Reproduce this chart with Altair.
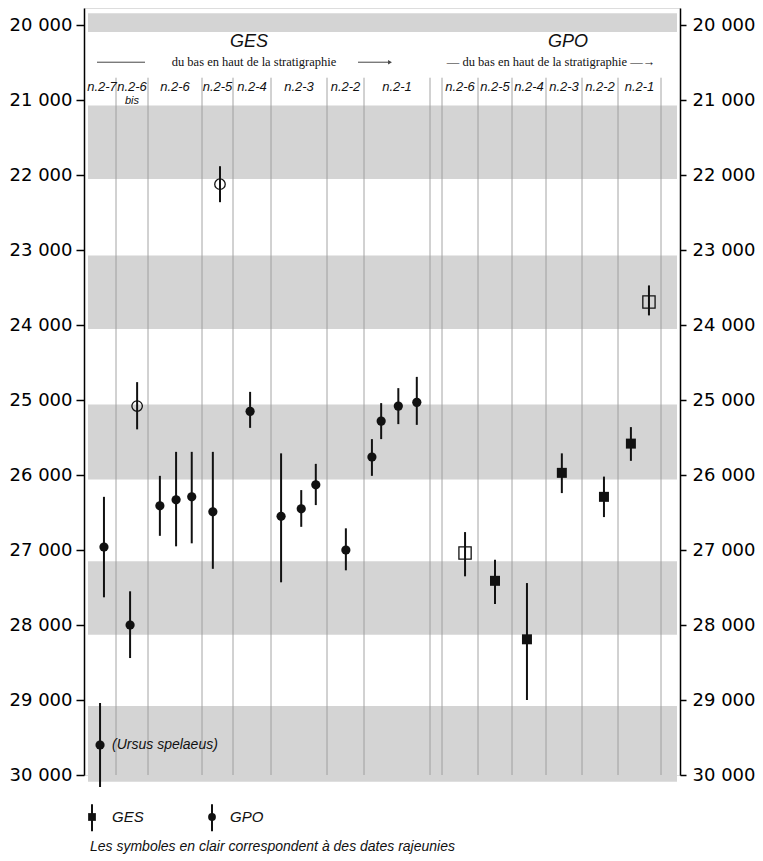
import altair as alt
import pandas as pd

# ---------------- data ----------------
# columns (levels) of the two sequences
col_site = ["GES"] * 8 + ["GPO"] * 6
col_label = ["n.2-7", "n.2-6", "n.2-6", "n.2-5", "n.2-4", "n.2-3", "n.2-2", "n.2-1",
             "n.2-6", "n.2-5", "n.2-4", "n.2-3", "n.2-2", "n.2-1"]
col_note = ["", "bis", "", "", "", "", "", "", "", "", "", "", "", ""]
# column edges (horizontal layout units)
col_left = [4, 32, 64, 118, 149, 187, 243, 280, 358, 394, 428, 462, 498, 534]
col_right = [32, 64, 118, 149, 187, 243, 280, 346, 394, 428, 462, 498, 534, 577]

# dates: column index, position inside column, date BP, range low/high, open symbol
pt_col = [0, 0, 1, 1, 2, 2, 2, 3, 3, 4, 5, 5, 5, 6, 7, 7, 7, 7,
          8, 9, 10, 11, 12, 13, 13]
pt_frac = [0.57, 0.43, 0.66, 0.44, 0.22, 0.52, 0.81, 0.35, 0.58, 0.45, 0.18, 0.54, 0.80,
           0.51, 0.12, 0.26, 0.52, 0.80,
           0.64, 0.50, 0.44, 0.44, 0.61, 0.30, 0.72]
pt_date = [26960, 29600, 25080, 28000, 26410, 26330, 26290, 26490, 22120, 25150, 26550,
           26450, 26130, 27000, 25760, 25280, 25080, 25030,
           27040, 27410, 28190, 25970, 26290, 25580, 23690]
pt_lo = [26290, 29040, 24760, 27550, 26010, 25690, 25690, 25690, 21880, 24890, 25710,
         26200, 25850, 26710, 25520, 25040, 24840, 24690,
         26760, 27130, 27440, 25710, 26020, 25360, 23470]
pt_hi = [27630, 30160, 25390, 28440, 26810, 26950, 26910, 27250, 22360, 25370, 27430,
         26690, 26400, 27270, 26010, 25520, 25320, 25330,
         27350, 27720, 29000, 26240, 26560, 25810, 23870]
pt_open = [False, False, True, False, False, False, False, False, True, False, False,
           False, False, False, False, False, False, False,
           True, False, False, False, False, False, True]

tick_values = list(range(20000, 30001, 1000))
band_lo = [19840, 21070, 23070, 25060, 27150, 29080]
band_hi = [20090, 22050, 24050, 26060, 28130, 30090]

site_names = ["GES", "GPO"]
subtitle_text = ["du bas en haut de la stratigraphie",
                 "\u2014 du bas en haut de la stratigraphie \u2014\u2192"]
legend_labels = ["GES", "GPO"]
legend_shapes = ["square", "circle"]
footnote = "Les symboles en clair correspondent \u00e0 des dates rajeunies"
ursus_label = "(Ursus spelaeus)"

# ---------------- layout ----------------
X_DOMAIN = [0, 596]
Y_DOMAIN = [19770, 30000]
BAND_X = (4, 593)
LABEL_Y = 20827
NOTE_Y = 21013
TITLE_Y = 20227
SUB_Y = 20493
SEP_TOP = 20700
LEG_Y = 30560
FOOT_Y = 30960
INK = "#111111"

# ---------------- frames ----------------
cols = pd.DataFrame({"site": col_site, "label": col_label, "note": col_note,
                     "left": col_left, "right": col_right})
cols["center"] = (cols["left"] + cols["right"]) / 2
cols["ly"] = LABEL_Y
cols["ny"] = NOTE_Y

pts = pd.DataFrame({"col": pt_col, "frac": pt_frac, "date": pt_date,
                    "lo": pt_lo, "hi": pt_hi, "open": pt_open})
pts["x"] = [col_left[c] + f * (col_right[c] - col_left[c]) for c, f in zip(pt_col, pt_frac)]
pts["site"] = [col_site[c] for c in pt_col]
pts["shape"] = ["circle" if s == "GES" else "square" for s in pts["site"]]
size_map = {("circle", False): 85, ("circle", True): 110,
            ("square", False): 100, ("square", True): 150}
pts["size"] = [size_map[(sh, o)] for sh, o in zip(pts["shape"], pts["open"])]

bands = pd.DataFrame({"lo": band_lo, "hi": band_hi})
bands["x0"] = BAND_X[0]
bands["x1"] = BAND_X[1]

seps = sorted(set(col_right) | {col_left[8]})
sep_df = pd.DataFrame({"x": seps, "top": SEP_TOP, "bottom": Y_DOMAIN[1]})

titles = pd.DataFrame({"text": site_names, "x": [165, 484], "y": TITLE_Y})
subs = pd.DataFrame({"text": subtitle_text, "x": [170, 467], "y": SUB_Y})
sub_lines = pd.DataFrame({"x0": [13, 274], "x1": [61, 304], "y": SUB_Y})
arrow = pd.DataFrame({"x": [306], "y": [SUB_Y]})

ursus = pts.iloc[[1]].copy()
ursus["tx"] = ursus["x"] + 12
ursus["text"] = ursus_label

legend = pd.DataFrame({"label": legend_labels, "shape": legend_shapes,
                       "x": [8, 128], "tx": [28, 146], "y": LEG_Y,
                       "lo": LEG_Y - 170, "hi": LEG_Y + 190})
foot = pd.DataFrame({"text": [footnote], "x": [6], "y": [FOOT_Y]})

# ---------------- chart ----------------
xs = alt.Scale(domain=X_DOMAIN, nice=False, zero=False)
ys = alt.Scale(domain=Y_DOMAIN, reverse=True, nice=False, zero=False)
label_expr = "replace(format(datum.value, ','), ',', ' ')"
common_axis = dict(values=tick_values, labelExpr=label_expr, title=None, grid=False,
                   domainColor="black", tickColor="black", domainWidth=1.5, tickWidth=1.5,
                   labelFont="DejaVu Sans", labelFontSize=18, labelColor="black")
left_axis = alt.Axis(orient="left", tickSize=8, labelPadding=4, **common_axis)
right_axis = alt.Axis(orient="right", tickSize=6, labelPadding=6, **common_axis)


def X(f):
    return alt.X(f, type="quantitative", scale=xs, axis=None)


def Y(f, axis=None):
    return alt.Y(f, type="quantitative", scale=ys, axis=axis)


band_layer = alt.Chart(bands).mark_rect(color="#d4d4d4").encode(
    x=X("x0"), x2="x1", y=Y("lo", left_axis), y2="hi")

sep_layer = alt.Chart(sep_df).mark_rule(color="#9a9a9a", strokeWidth=0.9).encode(
    x=X("x"), y=Y("top", right_axis), y2="bottom")

err_layer = alt.Chart(pts).mark_rule(color=INK, strokeWidth=2).encode(
    x=X("x"), y=Y("lo"), y2="hi")

filled_layer = alt.Chart(pts).transform_filter("!datum.open").mark_point(
    filled=True, color=INK, opacity=1).encode(
    x=X("x"), y=Y("date"),
    shape=alt.Shape("shape:N", scale=None), size=alt.Size("size:Q", scale=None))

open_layer = alt.Chart(pts).transform_filter("datum.open").mark_point(
    filled=False, color=INK, opacity=1, strokeWidth=1.3).encode(
    x=X("x"), y=Y("date"),
    shape=alt.Shape("shape:N", scale=None), size=alt.Size("size:Q", scale=None))

col_text = alt.Chart(cols).mark_text(font="Liberation Sans", fontStyle="italic",
                                     fontSize=13, color=INK, baseline="middle").encode(
    x=X("center"), y=Y("ly"), text="label:N")

note_text = alt.Chart(cols).transform_filter("datum.note != ''").mark_text(
    font="Liberation Sans", fontStyle="italic", fontSize=11, color=INK,
    baseline="middle").encode(x=X("center"), y=Y("ny"), text="note:N")

title_text = alt.Chart(titles).mark_text(font="Liberation Sans", fontStyle="italic",
                                         fontSize=18, color=INK, baseline="middle").encode(
    x=X("x"), y=Y("y"), text="text:N")

sub_text = alt.Chart(subs).mark_text(font="Liberation Serif", fontSize=12.5, color=INK,
                                     baseline="middle").encode(
    x=X("x"), y=Y("y"), text="text:N")

sub_rules = alt.Chart(sub_lines).mark_rule(color="#444", strokeWidth=1).encode(
    x=X("x0"), x2="x1", y=Y("y"))

arrow_pt = alt.Chart(arrow).mark_point(shape="triangle-right", filled=True, color="#444",
                                       size=20, opacity=1).encode(x=X("x"), y=Y("y"))

ursus_text = alt.Chart(ursus).mark_text(font="Liberation Sans", fontStyle="italic",
                                        fontSize=14, color=INK, align="left",
                                        baseline="middle").encode(
    x=X("tx"), y=Y("date"), text="text:N")

leg_bar = alt.Chart(legend).mark_rule(color=INK, strokeWidth=2).encode(
    x=X("x"), y=Y("lo"), y2="hi")
leg_pt = alt.Chart(legend).mark_point(filled=True, color=INK, opacity=1, size=60).encode(
    x=X("x"), y=Y("y"), shape=alt.Shape("shape:N", scale=None))
leg_text = alt.Chart(legend).mark_text(font="Liberation Sans", fontStyle="italic",
                                       fontSize=15, color=INK, align="left",
                                       baseline="middle").encode(
    x=X("tx"), y=Y("y"), text="label:N")
foot_text = alt.Chart(foot).mark_text(font="Liberation Sans", fontStyle="italic",
                                      fontSize=14, color=INK, align="left",
                                      baseline="middle").encode(
    x=X("x"), y=Y("y"), text="text:N")

chart = alt.layer(
    band_layer, sep_layer, err_layer, filled_layer, open_layer,
    col_text, note_text, title_text, sub_text, sub_rules, arrow_pt, ursus_text,
    leg_bar, leg_pt, leg_text, foot_text,
).resolve_axis(y="independent").resolve_scale(y="shared", x="shared").properties(
    width=596, height=767,
    autosize=alt.AutoSizeParams(type="none"),
    padding={"left": 76, "top": 0, "right": 75, "bottom": 100},
).configure_view(stroke=None).configure(background="white")

chart.save("out.html", embed_options={"renderer": "svg", "actions": False})
